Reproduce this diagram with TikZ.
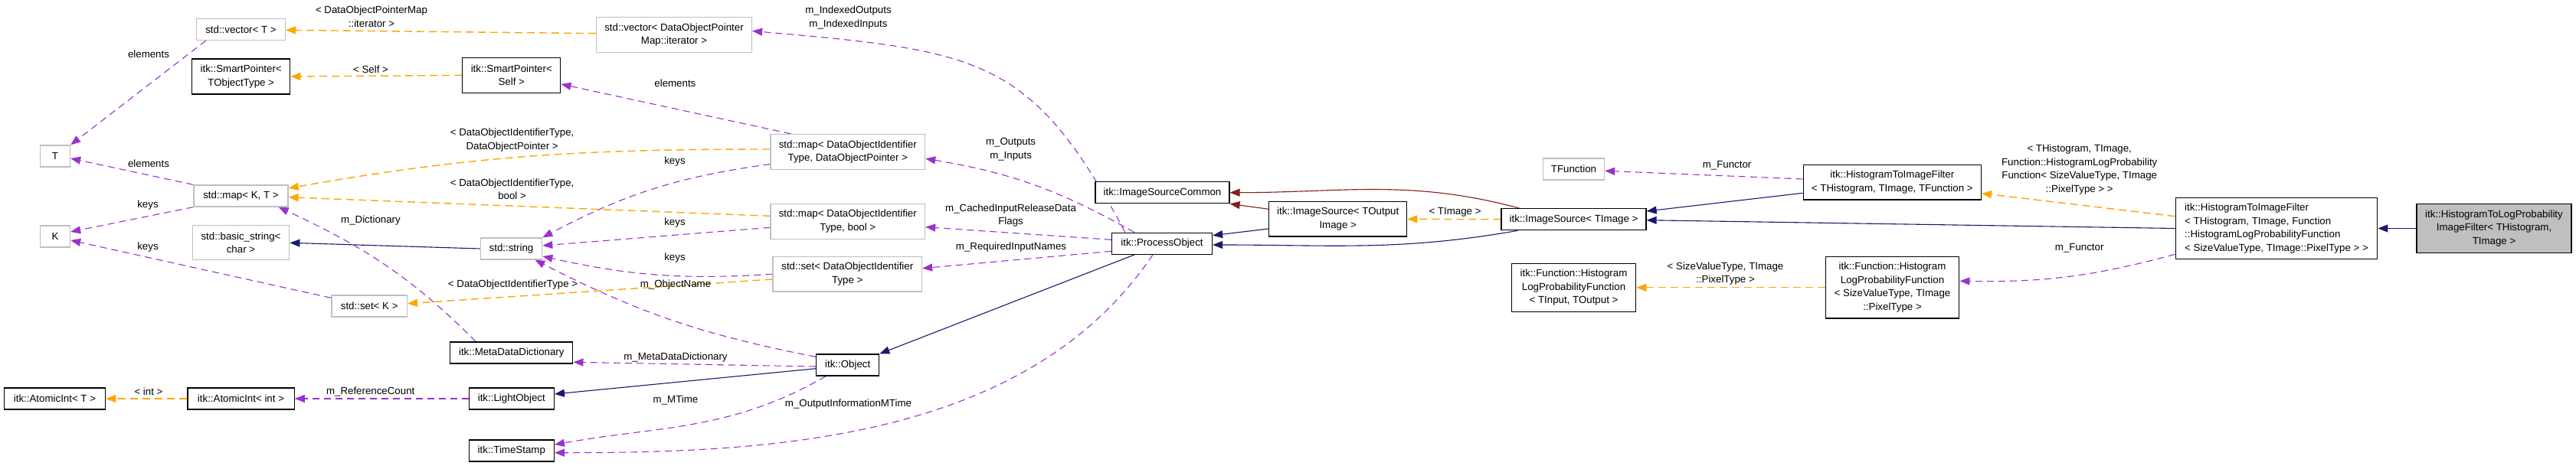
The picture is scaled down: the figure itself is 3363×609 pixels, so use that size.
\documentclass[tikz,border=0pt]{standalone}
\usepackage{fontspec}
\setmainfont{Liberation Sans}
\usepackage{tikz}
\usetikzlibrary{arrows.meta, backgrounds}
\definecolor{usecol}{HTML}{9A32CD}
\definecolor{tplcol}{HTML}{FFA500}
\definecolor{pubcol}{HTML}{191970}
\definecolor{prvcol}{HTML}{8B1A1A}
\definecolor{extcol}{HTML}{BFBFBF}

\begin{document}
\begin{tikzpicture}[x=1pt,y=1pt,
    cls/.style={draw=black,fill=white,line width=1.3pt,align=center,inner sep=1pt,font=\fontsize{13.3}{17.5}\selectfont},
    ext/.style={cls,draw=extcol},
    cur/.style={cls,fill=extcol},
    lbl/.style={align=center,inner sep=0pt,font=\fontsize{13.3}{17.5}\selectfont},
    arr/.style={-{Triangle[length=13pt,width=10pt]}},
    usage/.style={arr,usecol,line width=1.1pt,dash pattern=on 9pt off 6pt},
    tmpl/.style={arr,tplcol,line width=1.4pt,dash pattern=on 10pt off 6pt},
    inherit/.style={arr,pubcol,line width=1.1pt},
    privinh/.style={arr,prvcol,line width=1.1pt}]
    \node[ext,minimum width=115.7pt,minimum height=28pt] (vecT) at (314.5,-38.3) {std::vector< T >};
    \node[ext,minimum width=39pt,minimum height=28pt] (T) at (72,-204) {T};
    \node[cls,minimum width=128pt,minimum height=46pt] (spTObj) at (314.7,-100) {itk::SmartPointer<\\TObjectType >};
    \node[cls,minimum width=128pt,minimum height=46pt] (spSelf) at (667.8,-98.4) {itk::SmartPointer<\\Self >};
    \node[ext,minimum width=123pt,minimum height=28pt] (mapKT) at (314.5,-256) {std::map< K, T >};
    \node[ext,minimum width=203pt,minimum height=46pt] (vecIter) at (880,-45.5) {std::vector< DataObjectPointer\\Map::iterator >};
    \node[ext,minimum width=39pt,minimum height=28pt] (K) at (72,-309) {K};
    \node[ext,minimum width=126.5pt,minimum height=45pt] (bstr) at (314.5,-317.3) {std::basic\_string<\\char >};
    \node[ext,minimum width=80.4pt,minimum height=28pt] (str) at (667.5,-325) {std::string};
    \node[ext,minimum width=98.5pt,minimum height=28pt] (setK) at (482.2,-400) {std::set< K >};
    \node[cls,minimum width=160pt,minimum height=28pt] (mdd) at (667.8,-461) {itk::MetaDataDictionary};
    \node[cls,minimum width=132pt,minimum height=28pt] (aiT) at (71.5,-521) {itk::AtomicInt< T >};
    \node[cls,minimum width=139.3pt,minimum height=28pt] (aiInt) at (314.5,-521) {itk::AtomicInt< int >};
    \node[cls,minimum width=111pt,minimum height=28pt] (lobj) at (667.8,-521) {itk::LightObject};
    \node[cls,minimum width=111pt,minimum height=28pt] (ts) at (667.8,-589) {itk::TimeStamp};
    \node[ext,minimum width=201.5pt,minimum height=46pt] (mapDOP) at (1106.8,-198.5) {std::map< DataObjectIdentifier\\Type, DataObjectPointer >};
    \node[ext,minimum width=201.5pt,minimum height=46pt] (mapBool) at (1106.8,-289.3) {std::map< DataObjectIdentifier\\Type, bool >};
    \node[ext,minimum width=194.5pt,minimum height=45.3pt] (setDOI) at (1106.3,-358.3) {std::set< DataObjectIdentifier\\Type >};
    \node[cls,minimum width=82pt,minimum height=28pt] (obj) at (1106.7,-477) {itk::Object};
    \node[cls,minimum width=131pt,minimum height=28pt] (po) at (1517,-318.3) {itk::ProcessObject};
    \node[cls,minimum width=175pt,minimum height=28pt] (isc) at (1517.5,-251.7) {itk::ImageSourceCommon};
    \node[cls,minimum width=180pt,minimum height=45.3pt] (isOut) at (1746.7,-286.3) {itk::ImageSource< TOutput\\Image >};
    \node[cls,minimum width=189pt,minimum height=28pt] (isImg) at (2054.5,-286.7) {itk::ImageSource< TImage >};
    \node[ext,minimum width=80pt,minimum height=28pt] (tfun) at (2054.5,-221) {TFunction};
    \node[cls,minimum width=162.3pt,minimum height=63pt] (hlpTIO) at (2054.5,-375.8) {itk::Function::Histogram\\LogProbabilityFunction\\< TInput, TOutput >};
    \node[cls,minimum width=232pt,minimum height=45.3pt] (hifT) at (2470.3,-238.3) {itk::HistogramToImageFilter\\< THistogram, TImage, TFunction >};
    \node[cls,minimum width=174.6pt,minimum height=80.3pt] (hlpSVT) at (2470.5,-375.8) {itk::Function::Histogram\\LogProbabilityFunction\\< SizeValueType, TImage\\::PixelType >};
    \node[cls,align=left,minimum width=263.6pt,minimum height=80.4pt] (hifBase) at (2972,-298.5) {itk::HistogramToImageFilter\\< THistogram, TImage, Function\\::HistogramLogProbabilityFunction\\< SizeValueType, TImage::PixelType > >};
    \node[cur,minimum width=202pt,minimum height=63.6pt] (leaf) at (3256,-298.5) {itk::HistogramToLogProbability\\ImageFilter< THistogram,\\TImage >};
    \begin{scope}[on background layer]
    \path[fill=white,use as bounding box] (0,0) rectangle (3363,-609);
    \draw[usage] ([xshift=13pt]vecT.south west) -- (T.north east);
    \draw[usage] (mapKT.north west) -- ([yshift=-3pt]T.east);
    \draw[usage] (mapKT.south west) -- ([yshift=6pt]K.east);
    \draw[usage] ([yshift=-4pt]setK.north west) -- ([yshift=-5pt]K.east);
    \draw[usage] ([xshift=27pt]mapDOP.north west) -- ([yshift=-11.6pt]spSelf.east);
    \draw[usage] ([yshift=-16pt]mapDOP.west) to[bend right=10] (str.north east);
    \draw[usage] ([yshift=-8pt]mapBool.west) -- ([yshift=4pt]str.east);
    \draw[usage] (setDOI.west) to[bend left=8] ([yshift=-10pt]str.east);
    \draw[usage] ([yshift=-4pt]obj.north west) to[bend left=8] ([xshift=-10pt]str.south east);
    \draw[usage] ([xshift=34pt]mdd.north west) to[out=135,in=-25] ([xshift=-13pt]mapKT.south east);
    \draw[usage] (lobj.west) -- (aiInt.east);
    \draw[usage] ([yshift=-2pt]obj.west) -- ([yshift=-12.3pt]mdd.east);
    \draw[usage] ([xshift=13pt]obj.south west) to[out=210,in=10] ([yshift=8pt]ts.east);
    \draw[usage] ([xshift=-12pt]po.south) to[out=236,in=0,looseness=0.9] ([yshift=-2.7pt]ts.east);
    \draw[usage] ([yshift=-10pt]po.west) -- ([yshift=7.6pt]setDOI.east);
    \draw[usage] ([yshift=5pt]po.west) -- ([yshift=-7.4pt]mapBool.east);
    \draw[usage] ([xshift=30pt]po.north west) to[bend right=10] ([yshift=-8.8pt]mapDOP.east);
    \draw[usage] ([xshift=18pt]po.north west) .. controls +(118:260) and +(-5:300) .. ([yshift=5pt]vecIter.east);
    \draw[usage] ([yshift=4.3pt]hifT.west) -- ([yshift=-2.3pt]tfun.east);
    \draw[usage] ([yshift=7pt]hifBase.south west) to[bend left=8] ([yshift=8.5pt]hlpSVT.east);
    \draw[tmpl] ([yshift=1.8pt]vecIter.west) -- ([yshift=-1pt]vecT.east);
    \draw[tmpl] (spSelf.west) -- (spTObj.east);
    \draw[tmpl] ([yshift=3.5pt]mapDOP.west) to[out=180,in=10] ([yshift=10pt]mapKT.east);
    \draw[tmpl] ([yshift=7pt]mapBool.west) -- ([yshift=-1.7pt]mapKT.east);
    \draw[tmpl] ([yshift=-6.7pt]setDOI.west) -- ([yshift=3.3pt]setK.east);
    \draw[tmpl] (aiInt.west) -- (aiT.east);
    \draw[tmpl] (isImg.west) -- (isOut.east);
    \draw[tmpl] ([yshift=15.8pt]hifBase.west) -- ([yshift=-14.4pt]hifT.east);
    \draw[tmpl] (hlpSVT.west) -- (hlpTIO.east);
    \draw[inherit] (str.west) -- (bstr.east);
    \draw[inherit] ([yshift=-4.7pt]obj.west) -- ([yshift=6pt]lobj.east);
    \draw[inherit] ([xshift=30pt]po.south west) -- (obj.north east);
    \draw[inherit] ([yshift=-12.7pt]isOut.west) -- ([yshift=10.6pt]po.east);
    \draw[inherit] ([xshift=22pt]isImg.south west) to[out=190,in=0] ([yshift=-1.7pt]po.east);
    \draw[inherit] ([yshift=-14pt]hifT.west) -- ([yshift=10.7pt]isImg.east);
    \draw[inherit] (hifBase.west) -- ([yshift=-1pt]isImg.east);
    \draw[inherit] (leaf.west) -- (hifBase.east);
    \draw[privinh] ([yshift=13pt]isOut.west) -- (isc.south east);
    \draw[privinh] ([xshift=24pt]isImg.north west) to[out=165,in=0] (isc.east);
    \end{scope}
    \node[lbl] (lElemVec) at (194,-71) {elements};
    \node[lbl] (lElemMap) at (194,-214) {elements};
    \node[lbl] (lKeysMap) at (193,-268.3) {keys};
    \node[lbl] (lKeysSet) at (193,-323.3) {keys};
    \node[lbl] (lIter) at (485,-21.7) {< DataObjectPointerMap\\::iterator >};
    \node[lbl] (lSelf) at (484,-90.7) {< Self >};
    \node[lbl] (lDOP) at (668.6,-183) {< DataObjectIdentifierType,\\DataObjectPointer >};
    \node[lbl] (lBool) at (668.6,-247.2) {< DataObjectIdentifierType,\\bool >};
    \node[lbl] (lDict) at (484,-288.5) {m\_Dictionary};
    \node[lbl] (lDOI) at (669.6,-371.7) {< DataObjectIdentifierType >};
    \node[lbl] (lInt) at (194,-511.7) {< int >};
    \node[lbl] (lRefCount) at (483.7,-511.7) {m\_ReferenceCount};
    \node[lbl] (lElemSP) at (881.4,-108.7) {elements};
    \node[lbl] (lKeysDOP) at (881,-210.7) {keys};
    \node[lbl] (lKeysBool) at (881,-290.7) {keys};
    \node[lbl] (lKeysDOI) at (881,-336.7) {keys};
    \node[lbl] (lObjName) at (882,-371.7) {m\_ObjectName};
    \node[lbl] (lMDD) at (882,-466.7) {m\_MetaDataDictionary};
    \node[lbl] (lMTime) at (882,-522.7) {m\_MTime};
    \node[lbl] (lOutMTime) at (1107.5,-527.7) {m\_OutputInformationMTime};
    \node[lbl] (lIndexed) at (1107.5,-23.3) {m\_IndexedOutputs\\m\_IndexedInputs};
    \node[lbl] (lInOut) at (1319.6,-195.3) {m\_Outputs\\m\_Inputs};
    \node[lbl] (lCached) at (1319.6,-281.7) {m\_CachedInputReleaseData\\Flags};
    \node[lbl] (lReq) at (1320,-323.3) {m\_RequiredInputNames};
    \node[lbl] (lTImage) at (1899.5,-277.3) {< TImage >};
    \node[lbl] (lFunctorT) at (2254.6,-216.7) {m\_Functor};
    \node[lbl] (lSVT) at (2252.5,-357.8) {< SizeValueType, TImage\\::PixelType >};
    \node[lbl] (lBase) at (2714.7,-221.6) {< THistogram, TImage,\\Function::HistogramLogProbability\\Function< SizeValueType, TImage\\::PixelType > >};
    \node[lbl] (lFunctorB) at (2714.7,-324.3) {m\_Functor};
\end{tikzpicture}
\end{document}
